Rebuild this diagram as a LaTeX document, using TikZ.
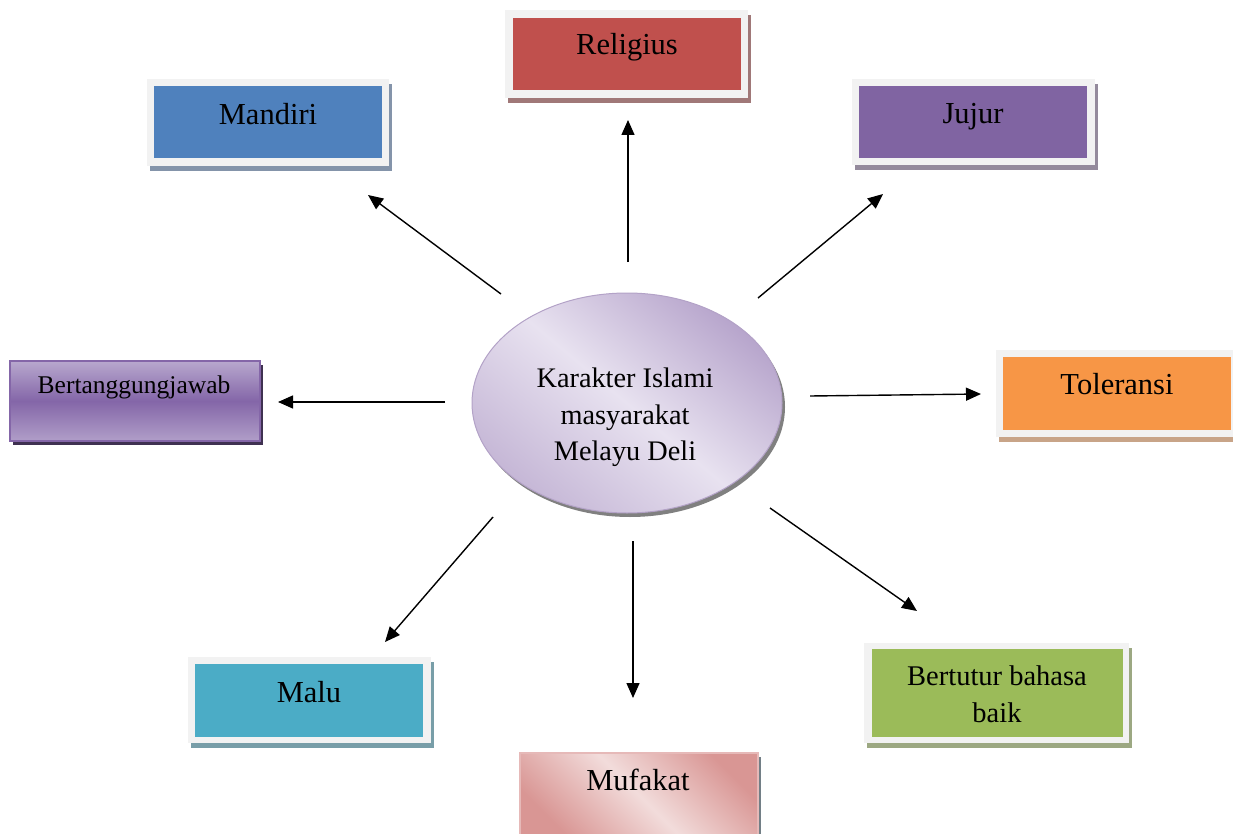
\documentclass[tikz,border=0pt]{standalone}
\usepackage{fontspec}
\setmainfont{Liberation Serif}
\usetikzlibrary{arrows.meta,shadows,shapes.geometric}
\definecolor{framegray}{HTML}{F2F2F2}
\definecolor{creli}{HTML}{C0504D}
\definecolor{cmand}{HTML}{4F81BD}
\definecolor{cjuj}{HTML}{8064A2}
\definecolor{ctol}{HTML}{F79646}
\definecolor{cmalu}{HTML}{4BACC6}
\definecolor{cbert}{HTML}{9BBB59}
\definecolor{sreli}{HTML}{A07878}
\definecolor{smand}{HTML}{8494AA}
\definecolor{sjuj}{HTML}{948A9C}
\definecolor{stol}{HTML}{C8A488}
\definecolor{smalu}{HTML}{789EA8}
\definecolor{sbert}{HTML}{9CA882}
\definecolor{plight}{HTML}{B8A8CE}
\definecolor{pdark}{HTML}{8466A8}
\definecolor{pshadow}{HTML}{3F3151}
\definecolor{pinkl}{HTML}{F2DCDB}
\definecolor{pinkd}{HTML}{D99694}
\definecolor{pinkb}{HTML}{E6B9B8}
\definecolor{elll}{HTML}{E8E2F0}
\definecolor{elld}{HTML}{B7A5CC}
\definecolor{ellb}{HTML}{B3A2C7}
\begin{document}
\begin{tikzpicture}[x=1pt,y=-1pt,
  outerbox/.style={fill=framegray,draw=none,inner sep=0pt,
    drop shadow={shadow xshift=3pt,shadow yshift=-5pt,fill=#1,opacity=1}},
  innerbox/.style={fill=#1,draw=none,inner sep=0pt},
  lbl/.style={inner sep=0pt,font=\fontsize{30.5}{36}\selectfont},
  arr/.style={line width=1.4pt,-{Triangle[length=15pt,width=13pt]}}]
\useasboundingbox (0,0) rectangle (1233,834);

% Religius
\node[outerbox=sreli,minimum width=243,minimum height=88] (reliF) at (626.5,54) {};
\node[innerbox=creli,minimum width=228,minimum height=72] (reli) at (627,54) {};
\node[lbl,anchor=base] (reliT) at (627,55) {Religius};

% Mandiri
\node[outerbox=smand,minimum width=242,minimum height=87] (mandF) at (268,122.5) {};
\node[innerbox=cmand,minimum width=228,minimum height=72] (mand) at (268,122) {};
\node[lbl,anchor=base] (mandT) at (268,125) {Mandiri};

% Jujur
\node[outerbox=sjuj,minimum width=243,minimum height=86] (jujF) at (973.5,122) {};
\node[innerbox=cjuj,minimum width=228,minimum height=72] (juj) at (973,122) {};
\node[lbl,anchor=base] (jujT) at (973,124) {Jujur};

% Toleransi
\node[outerbox=stol,minimum width=243,minimum height=87] (tolF) at (1117.5,393.5) {};
\node[innerbox=ctol,minimum width=228,minimum height=73] (tol) at (1117,393.5) {};
\node[lbl,anchor=base] (tolT) at (1117,394) {Toleransi};

% Malu
\node[outerbox=smalu,minimum width=243,minimum height=86] (maluF) at (309.5,700) {};
\node[innerbox=cmalu,minimum width=228,minimum height=73] (malu) at (309,700.5) {};
\node[lbl,anchor=base] (maluT) at (309,702) {Malu};

% Bertutur bahasa baik
\node[outerbox=sbert,minimum width=265,minimum height=100] (bertF) at (996.5,693) {};
\node[innerbox=cbert,minimum width=251,minimum height=88] (bert) at (997.5,693) {};
\node[inner sep=0pt,align=center,anchor=north,font=\fontsize{28.5}{37}\selectfont] (bertT) at (997,665.5) {Bertutur bahasa\\baik};

% Bertanggungjawab
\node[draw=pdark,line width=1.5pt,inner sep=0pt,minimum width=250,minimum height=80,
  top color=plight,bottom color=plight!85!pdark,middle color=pdark,
  drop shadow={shadow xshift=3pt,shadow yshift=-4pt,fill=pshadow,opacity=1}] (tang) at (135,401) {};
\node[inner sep=0pt,anchor=base,font=\fontsize{25.5}{30}\selectfont] (tangT) at (134,393) {Bertanggungjawab};

% Mufakat
\node[draw=pinkb,line width=1.5pt,inner sep=0pt,minimum width=238,minimum height=84,
  top color=pinkd,bottom color=pinkd,middle color=pinkl,shading angle=-45,
  drop shadow={shadow xshift=3pt,shadow yshift=-4pt,fill=black!60!cyan!40!gray,opacity=1}] (muf) at (639,795) {};
\node[lbl,anchor=base] (mufT) at (638,790) {Mufakat};

% Central ellipse
\node[ellipse,draw=ellb,line width=1pt,minimum width=310,minimum height=220,inner sep=0pt,
  top color=elld,bottom color=elld!80!white,middle color=elll,shading angle=-40,
  drop shadow={shadow xshift=3pt,shadow yshift=-4pt,fill=black!50,opacity=1}] (ell) at (627,403) {};
\node[inner sep=0pt,align=center,anchor=north,font=\fontsize{28.3}{36.5}\selectfont] (ellT) at (625,367.7) {Karakter Islami\\masyarakat\\Melayu Deli};

% Arrow end points
\coordinate (s1) at (628,262); \coordinate (e1) at (628,120);
\coordinate (s2) at (501,294); \coordinate (e2) at (368,195);
\coordinate (s3) at (758,298); \coordinate (e3) at (883,194);
\coordinate (s4) at (810,396); \coordinate (e4) at (981,394);
\coordinate (s5) at (445,402); \coordinate (e5) at (278,402);
\coordinate (s6) at (493,517); \coordinate (e6) at (385,642);
\coordinate (s7) at (633,541); \coordinate (e7) at (633,698);
\coordinate (s8) at (770,508); \coordinate (e8) at (917,611);
\foreach \i in {1,...,8} {\draw[arr] (s\i) -- (e\i);}
\end{tikzpicture}
\end{document}
